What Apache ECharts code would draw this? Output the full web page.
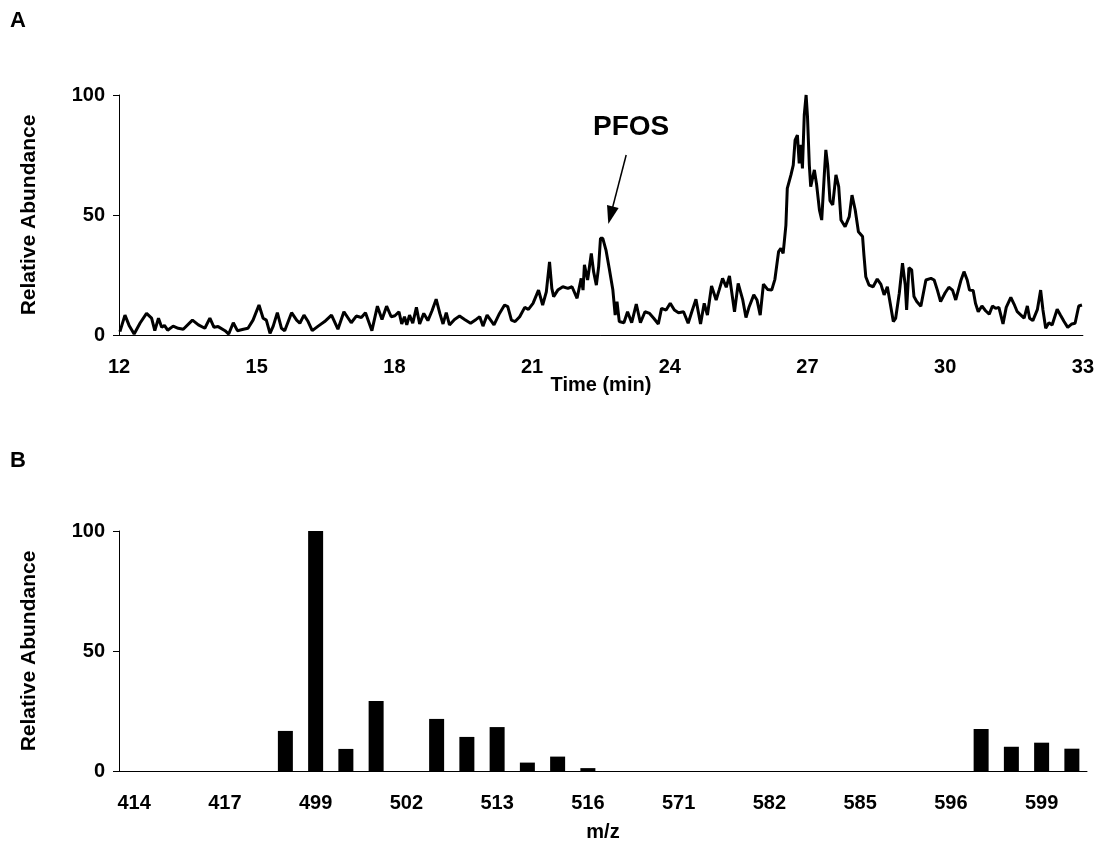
<!DOCTYPE html>
<html>
<head>
<meta charset="utf-8">
<script src="https://cdn.jsdelivr.net/npm/echarts@6/dist/echarts.min.js"></script>
<style>
html,body{margin:0;padding:0;background:#fff;}
#chart{width:1097px;height:851px;}
</style>
</head>
<body>
<div id="chart"></div>
<script>
// Panel A: chromatogram (time in min, relative abundance)
var timeMin = [12.02,12.13,12.22,12.33,12.46,12.60,12.71,12.78,12.86,12.93,12.99,13.06,13.18,13.29,13.40,13.60,13.73,13.87,13.98,14.07,14.16,14.31,14.39,14.49,14.58,14.71,14.81,14.92,15.05,
15.14,15.21,15.29,15.36,15.45,15.54,15.61,15.76,15.87,15.94,16.03,16.12,16.21,16.34,16.48,16.63,16.77,16.90,17.06,17.17,17.28,17.37,17.51,17.63,17.73,17.83,17.93,18.01,18.10,
18.16,18.22,18.27,18.33,18.40,18.48,18.55,18.64,18.73,18.82,18.91,18.99,19.06,19.13,19.20,19.31,19.42,19.53,19.66,19.78,19.86,19.93,20.02,20.17,20.29,20.40,20.47,20.55,20.63,20.73,20.84,20.92,21.02,21.14,
21.23,21.31,21.38,21.43,21.47,21.56,21.67,21.78,21.87,21.98,22.07,22.11,22.14,22.21,22.29,22.34,22.40,22.45,22.49,22.54,22.61,22.68,22.76,22.81,22.85,22.90,23.00,23.08,23.17,23.27,23.36,23.46,23.56,23.65,23.75,23.82,23.92,24.01,24.10,
24.19,24.30,24.40,24.48,24.57,24.67,24.75,24.82,24.91,25.01,25.08,25.15,25.23,25.30,25.41,25.49,25.59,25.66,25.73,25.83,25.90,25.97,26.04,26.13,26.22,26.29,26.37,26.42,26.47,
26.53,26.56,26.64,26.69,26.73,26.78,26.82,26.86,26.89,26.93,26.97,27.00,27.04,27.07,27.15,27.20,27.26,27.31,27.37,27.40,27.44,27.49,27.55,27.62,27.68,27.73,27.82,27.91,27.97,28.04,28.11,28.20,28.23,28.27,28.34,28.43,28.52,28.60,28.67,28.74,28.79,28.87,28.92,29.00,29.07,29.13,29.16,29.21,29.27,29.32,
29.38,29.47,29.58,29.69,29.76,29.83,29.90,30.00,30.08,30.16,30.23,30.34,30.41,30.48,30.53,30.61,30.66,30.72,30.80,30.88,30.96,31.03,31.10,31.17,31.26,31.33,31.43,31.50,31.57,31.65,31.72,31.79,31.84,31.91,32.01,32.08,32.13,32.19,32.26,32.33,32.44,32.51,32.59,32.67,32.76,32.83,32.91,32.98];
var abundanceA = [1.4,8.3,4,0.4,5,9,7,1.8,7,3.2,4,2,3.7,2.8,2.4,6.2,4.2,2.8,7,3.2,3.5,1.8,0.4,5.1,1.8,2.4,2.8,6.2,12.5,
7,6.2,0.7,3.7,9.3,2.8,1.8,9.3,6.2,4.9,8.3,5.6,1.8,3.7,5.6,8.3,2.4,9.7,5.1,7.9,7.3,9.3,1.8,12,6.5,12,7.6,8,9.7,
4.6,7.6,4.2,8.3,4.9,11.5,4.6,9,6,10.1,14.9,9,4.6,9.3,4.2,6.5,7.9,6.5,4.9,6.5,7.6,3.7,8.3,4.2,9,12.5,11.8,6.2,5.6,7.6,11.5,10.7,13.2,18.7,
12.5,18,30.5,19.4,16,18.7,20.1,19.4,20.1,15.3,23.6,18.7,29.2,22.9,34,26.4,20.8,28.5,40.3,40.3,35.4,27.8,18.7,8.3,13.9,5.6,5.1,9.7,5.1,12.9,5.1,9.7,9,7,4.6,11.1,10.4,13.2,10.4,
9.3,9.7,4.9,9.7,14.9,4.6,13.2,8.3,20.4,14.6,19,23.6,19.9,24.6,9.7,21.5,14.6,7.3,11.8,16.7,14.6,8.3,21.2,19,18.7,23.2,34.7,36.1,34,
45.8,61.1,66.7,70.8,81.2,83.3,71.5,79.2,69.4,91.7,100,91,70.8,61.8,68.8,62.5,52.1,47.9,68,77.1,70.8,56,54.2,66.7,61.8,47.9,45.1,49.3,58.3,52.1,43,41,33.3,24.3,20.8,20.1,23.3,21.1,16.7,20.1,14.6,5.6,6.9,17.4,29.9,20.8,10.4,28,27.1,16,
14,12,22.9,23.6,22.9,18.7,13.9,17.6,19.9,18.7,14.6,22.6,26.4,22.9,18.7,18.5,13.2,9.7,12.1,10.1,8.7,12.1,11.1,11.5,4.6,11.5,15.7,12.9,9.7,8.3,7,12.1,7,6,10.7,18.7,10.4,2.8,5.1,4.2,10.7,8.3,5.6,3.2,4.6,4.9,12.1,12.5];

// Panel B: mass spectrum (m/z categories, relative abundance)
var mzCategories = ['414','415','416','417','418','498','499','500','501','502','503','512','513','514','515','516','517','570','571','572','581','582','583','584','585','586','595','596','597','598','599','600'];
var abundanceB = [0,0,0,0,0,16.7,100,9.2,29.2,0,21.7,14.2,18.3,3.5,6,1.2,0,0,0,0,0,0,0,0,0,0,0,0,17.5,10.1,11.8,9.3];

var yTicksA = [0,50,100];
var xTicksA = [12,15,18,21,24,27,30,33];

var FONT = '"Liberation Sans", Arial, sans-serif';
var lineData = timeMin.map(function(t,i){return [t, abundanceA[i]];});

var chart = echarts.init(document.getElementById('chart'), null, {renderer:'canvas'});
var labelStyle = {color:'#000', fontWeight:'bold', fontSize:20, fontFamily:FONT};
var nameStyle = {color:'#000', fontWeight:'bold', fontSize:20, fontFamily:FONT};

chart.setOption({
  animation:false,
  backgroundColor:'#fff',
  grid:[
    {left:119, top:95, width:964, height:240},
    {left:119, top:531, width:968, height:240}
  ],
  xAxis:[
    {gridIndex:0, type:'value', min:xTicksA[0], max:xTicksA[xTicksA.length-1], interval:3,
     name:'Time (min)', nameLocation:'middle', nameGap:40, nameMoveOverlap:false, nameTextStyle:nameStyle,
     axisLine:{lineStyle:{color:'#000', width:1}}, axisTick:{show:false}, splitLine:{show:false},
     axisLabel:Object.assign({margin:22}, labelStyle)},
    {gridIndex:1, type:'category', data:mzCategories, boundaryGap:true,
     name:'m/z', nameLocation:'middle', nameGap:51, nameTextStyle:nameStyle,
     axisLine:{lineStyle:{color:'#000', width:1}}, axisTick:{show:false},
     axisLabel:Object.assign({margin:22, interval:2}, labelStyle)}
  ],
  yAxis:[
    {gridIndex:0, type:'value', min:0, max:100, interval:50,
     name:'Relative Abundance', nameLocation:'middle', nameGap:79, nameTextStyle:{color:'#000', fontWeight:'bold', fontSize:21, fontFamily:FONT},
     axisLine:{show:true, lineStyle:{color:'#000', width:1}}, axisTick:{show:true, length:6, lineStyle:{color:'#000'}},
     splitLine:{show:false}, axisLabel:Object.assign({margin:14}, labelStyle)},
    {gridIndex:1, type:'value', min:0, max:100, interval:50,
     name:'Relative Abundance', nameLocation:'middle', nameGap:79, nameTextStyle:{color:'#000', fontWeight:'bold', fontSize:21, fontFamily:FONT},
     axisLine:{show:true, lineStyle:{color:'#000', width:1}}, axisTick:{show:true, length:6, lineStyle:{color:'#000'}},
     splitLine:{show:false}, axisLabel:Object.assign({margin:14}, labelStyle)}
  ],
  series:[
    {type:'line', xAxisIndex:0, yAxisIndex:0, data:lineData, showSymbol:false, symbol:'none',
     lineStyle:{color:'#000', width:3}, silent:true,
     markLine:{silent:true, symbol:['none','triangle'], symbolSize:[12,18],
       label:{show:false}, lineStyle:{color:'#000', width:1.5, type:'solid'},
       data:[[{coord:[23.05,75]},{coord:[22.71,49.9]}]]}},
    {type:'bar', xAxisIndex:1, yAxisIndex:1, data:abundanceB, barWidth:15,
     itemStyle:{color:'#000'}, silent:true}
  ],
  graphic:[
    {type:'text', left:10, top:10, style:{text:'A', font:'bold 22px '+FONT, fill:'#000'}},
    {type:'text', left:10, top:450, style:{text:'B', font:'bold 22px '+FONT, fill:'#000'}},
    {type:'text', left:593, top:113, style:{text:'PFOS', font:'bold 28px '+FONT, fill:'#000'}}
  ]
});
</script>
</body>
</html>
